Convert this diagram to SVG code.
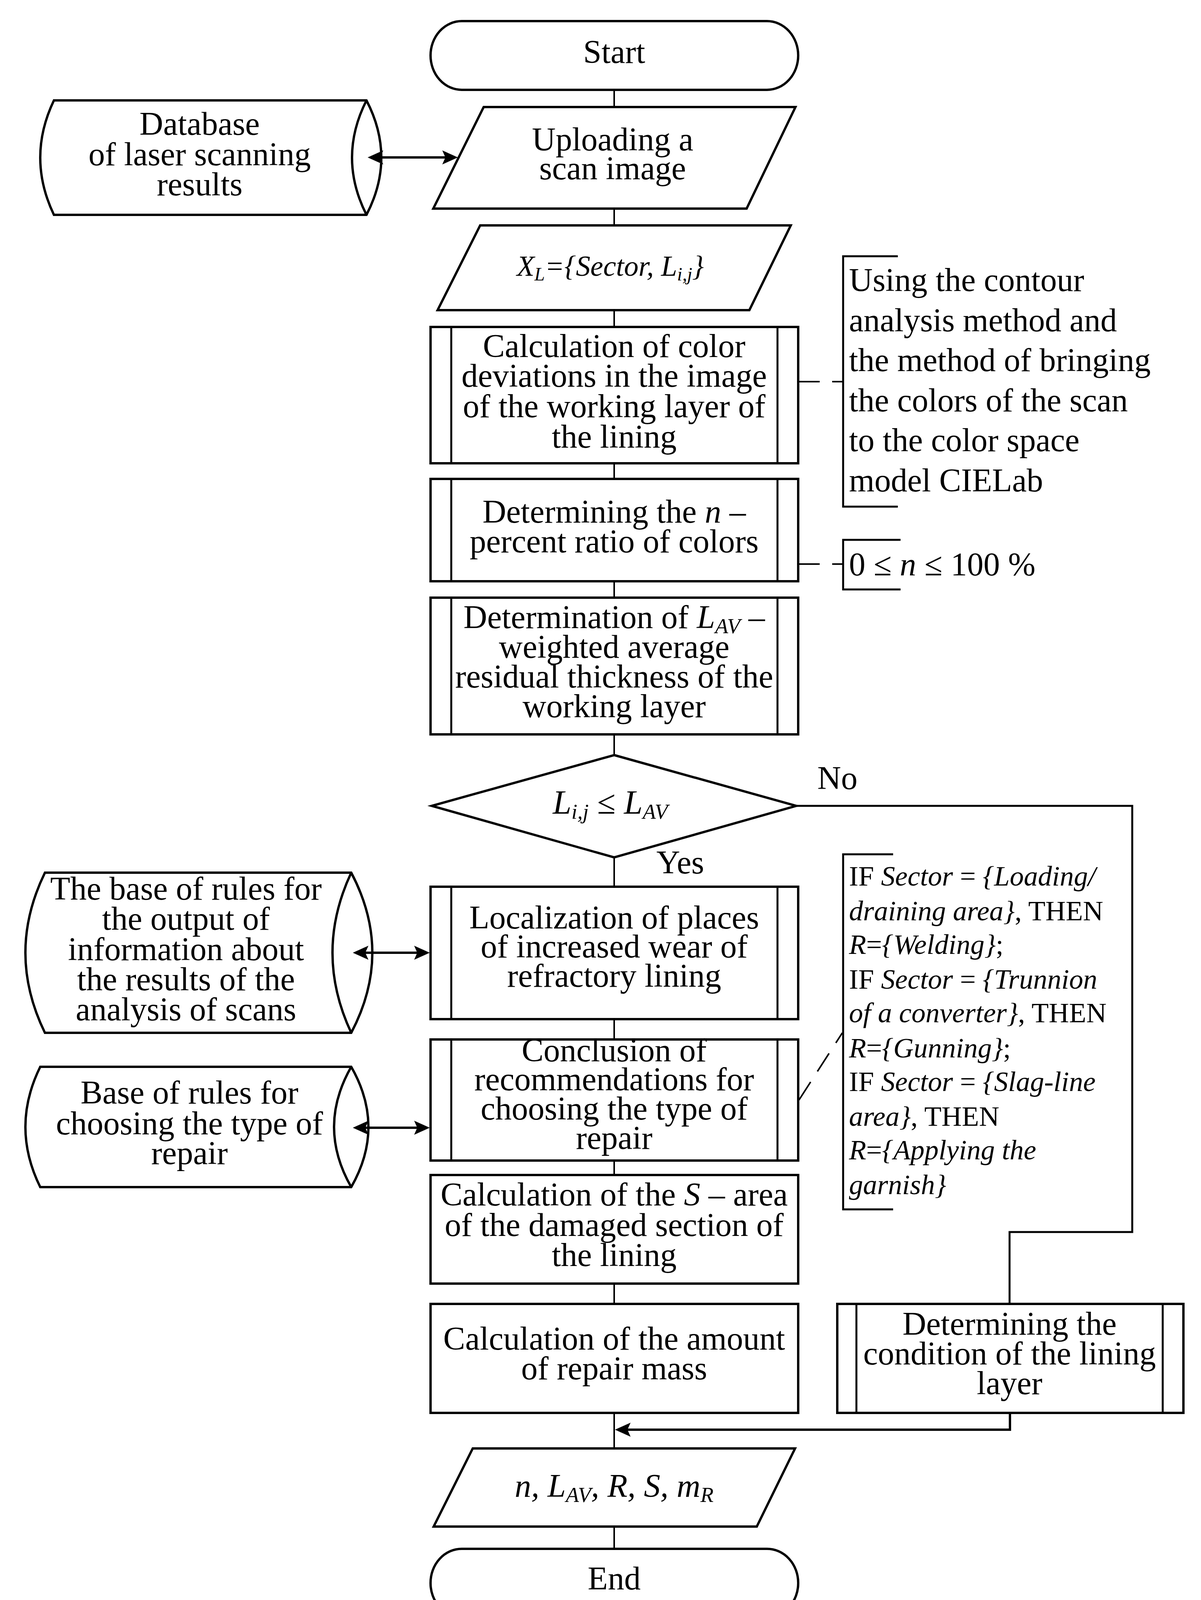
<svg xmlns="http://www.w3.org/2000/svg" width="3074" height="4181" viewBox="0 0 3074 4181">
<style>
.shape{fill:#fff;stroke:#000;stroke-width:6;stroke-linejoin:miter}
.inner{fill:none;stroke:#000;stroke-width:5}
.conn{fill:none;stroke:#000;stroke-width:4}
.thick{fill:none;stroke:#000;stroke-width:6}
.dash{stroke-dasharray:55 32}
.br{fill:none;stroke:#000;stroke-width:5}
.t{font-family:"Liberation Serif","Times New Roman",serif;font-size:84px;fill:#000}
.c{text-anchor:middle}
.i{font-style:italic}
.s{font-size:55px}
.sm{font-size:72px}
.md{font-size:84px}
</style>
<defs>
<marker id="ah" viewBox="0 0 40 36" refX="20" refY="18" markerWidth="40" markerHeight="36" markerUnits="userSpaceOnUse" orient="auto-start-reverse">
<path d="M0,0 L40,18 L0,36 L8,18 Z" fill="#000"/>
</marker>
</defs>
<rect width="3074" height="4181" fill="#fff"/>

<g id="start">
<rect class="shape" x="1102" y="54" width="941" height="176" rx="80" ry="88"/>
<text class="t c" x="1572" y="161">Start</text>
</g>

<g id="upload">
<path class="shape" d="M1238,274 L2036,274 L1911,534 L1109,534 Z"/>
<text class="t c"><tspan x="1568" y="385">Uploading a</tspan><tspan x="1568" y="459">scan image</tspan></text>
</g>

<g id="database">
<path class="shape" d="M138,257 L938,257 Q1014,403.5 938,550 L138,550 Q68,403.5 138,257 Z"/>
<path class="inner" style="stroke-width:6" d="M938,257 Q864,403.5 938,550"/>
<text class="t c"><tspan x="511" y="345">Database</tspan><tspan x="511" y="423">of laser scanning</tspan><tspan x="511" y="500">results</tspan></text>
</g>

<g id="xl">
<path class="shape" d="M1229,577 L2024,577 L1918,794 L1120,794 Z"/>
<text class="t c i" x="1562" y="706" style="font-size:74px">X<tspan dy="12" style="font-size:48px">L</tspan><tspan dy="-12">={Sector, L</tspan><tspan dy="12" style="font-size:48px">i,j</tspan><tspan dy="-12">}</tspan></text>
</g>

<g id="calc-color">
<rect class="shape" x="1102" y="837" width="941" height="349"/>
<path class="inner" d="M1155,837 V1186 M1990,837 V1186"/>
<text class="t c"><tspan x="1572" y="914">Calculation of color</tspan><tspan x="1572" y="990">deviations in the image</tspan><tspan x="1572" y="1068">of the working layer of</tspan><tspan x="1572" y="1146">the lining</tspan></text>
</g>

<g id="note-contour">
<path class="br" d="M2298,656 H2158 V1297 H2298"/>
<text class="t md"><tspan x="2173" y="745">Using the contour</tspan><tspan x="2173" y="848">analysis method and</tspan><tspan x="2173" y="950">the method of bringing</tspan><tspan x="2173" y="1053">the colors of the scan</tspan><tspan x="2173" y="1155">to the color space</tspan><tspan x="2173" y="1258">model CIELab</tspan></text>
</g>

<g id="det-n">
<rect class="shape" x="1102" y="1226" width="941" height="262"/>
<path class="inner" d="M1155,1226 V1488 M1990,1226 V1488"/>
<text class="t c"><tspan x="1572" y="1338">Determining the <tspan class="i">n</tspan> –</tspan><tspan x="1572" y="1414">percent ratio of colors</tspan></text>
</g>

<g id="note-n">
<path class="br" d="M2305,1382 H2158 V1509 H2305"/>
<text class="t md" x="2173" y="1473">0 ≤ <tspan class="i">n</tspan> ≤ 100 %</text>
</g>

<g id="det-lav">
<rect class="shape" x="1102" y="1530" width="941" height="350"/>
<path class="inner" d="M1155,1530 V1880 M1990,1530 V1880"/>
<text class="t c"><tspan x="1572" y="1608">Determination of <tspan class="i">L</tspan><tspan class="i s" dy="13">AV</tspan><tspan dy="-13"> –</tspan></tspan><tspan x="1572" y="1684">weighted average</tspan><tspan x="1572" y="1760">residual thickness of the</tspan><tspan x="1572" y="1836">working layer</tspan></text>
</g>

<g id="decision">
<path class="shape" d="M1572,1933 L2038,2063 L1572,2195 L1105,2063 Z"/>
<text class="t c i" x="1562" y="2083" style="font-size:86px">L<tspan class="s" dy="13">i,j</tspan><tspan dy="-13" style="font-style:normal"> ≤ </tspan>L<tspan class="s" dy="13">AV</tspan></text>
<text class="t" x="2092" y="2020">No</text>
<text class="t" x="1680" y="2236">Yes</text>
</g>

<g id="localization">
<rect class="shape" x="1102" y="2270" width="941" height="339"/>
<path class="inner" d="M1155,2270 V2609 M1990,2270 V2609"/>
<text class="t c"><tspan x="1572" y="2377">Localization of places</tspan><tspan x="1572" y="2451">of increased wear of</tspan><tspan x="1572" y="2526">refractory lining</tspan></text>
</g>

<g id="base-output">
<path class="shape" d="M115,2234 L899,2234 Q1007,2439 899,2644 L115,2644 Q15,2439 115,2234 Z"/>
<path class="inner" style="stroke-width:6" d="M899,2234 Q803,2439 899,2644"/>
<text class="t c"><tspan x="476" y="2303">The base of rules for</tspan><tspan x="476" y="2380">the output of</tspan><tspan x="476" y="2458">information about</tspan><tspan x="476" y="2535">the results of the</tspan><tspan x="476" y="2612">analysis of scans</tspan></text>
</g>

<g id="conclusion">
<rect class="shape" x="1102" y="2661" width="941" height="310"/>
<path class="inner" d="M1155,2661 V2971 M1990,2661 V2971"/>
<text class="t c"><tspan x="1572" y="2717">Conclusion of</tspan><tspan x="1572" y="2791">recommendations for</tspan><tspan x="1572" y="2866">choosing the type of</tspan><tspan x="1572" y="2941">repair</tspan></text>
</g>

<g id="base-repair">
<path class="shape" d="M103,2731 L899,2731 Q987,2885 899,3039 L103,3039 Q27,2885 103,2731 Z"/>
<path class="inner" style="stroke-width:6" d="M899,2731 Q811,2885 899,3039"/>
<text class="t c"><tspan x="485" y="2825">Base of rules for</tspan><tspan x="485" y="2904">choosing the type of</tspan><tspan x="485" y="2980">repair</tspan></text>
</g>

<g id="note-rules">
<path class="br" d="M2286,2187 H2158 V3096 H2286"/>
<text class="t sm"><tspan x="2173" y="2267">IF <tspan class="i">Sector</tspan> = <tspan class="i">{Loading/</tspan></tspan><tspan x="2173" y="2356"><tspan class="i">draining area}</tspan>, THEN</tspan><tspan x="2173" y="2442"><tspan class="i">R</tspan>=<tspan class="i">{Welding}</tspan>;</tspan><tspan x="2173" y="2531">IF <tspan class="i">Sector</tspan> = <tspan class="i">{Trunnion</tspan></tspan><tspan x="2173" y="2617"><tspan class="i">of a converter}</tspan>, THEN</tspan><tspan x="2173" y="2707"><tspan class="i">R</tspan>=<tspan class="i">{Gunning}</tspan>;</tspan><tspan x="2173" y="2793">IF <tspan class="i">Sector</tspan> = <tspan class="i">{Slag-line</tspan></tspan><tspan x="2173" y="2882"><tspan class="i">area}</tspan>, THEN</tspan><tspan x="2173" y="2968"><tspan class="i">R</tspan>=<tspan class="i">{Applying the</tspan></tspan><tspan x="2173" y="3057" class="i">garnish}</tspan></text>
</g>

<g id="calc-s">
<rect class="shape" x="1102" y="3008" width="941" height="278"/>
<text class="t c"><tspan x="1572" y="3086">Calculation of the <tspan class="i">S</tspan> – area</tspan><tspan x="1572" y="3164">of the damaged section of</tspan><tspan x="1572" y="3241">the lining</tspan></text>
</g>

<g id="calc-mass">
<rect class="shape" x="1102" y="3338" width="941" height="279"/>
<text class="t c"><tspan x="1572" y="3455">Calculation of the amount</tspan><tspan x="1572" y="3531">of repair mass</tspan></text>
</g>

<g id="condition">
<rect class="shape" x="2143" y="3338" width="886" height="279"/>
<path class="inner" d="M2192,3338 V3617 M2976,3338 V3617"/>
<text class="t c"><tspan x="2584" y="3417">Determining the</tspan><tspan x="2584" y="3493">condition of the lining</tspan><tspan x="2584" y="3569">layer</tspan></text>
</g>

<g id="output">
<path class="shape" d="M1210,3708 L2035,3708 L1937,3908 L1110,3908 Z"/>
<text class="t c i" x="1572" y="3832">n, L<tspan class="s" dy="13">AV</tspan><tspan dy="-13">, R, S, m</tspan><tspan class="s" dy="13">R</tspan></text>
</g>

<g id="end">
<rect class="shape" x="1102" y="3965" width="941" height="175" rx="80" ry="87"/>
<text class="t c" x="1572" y="4069">End</text>
</g>

<g id="connectors">
<path class="conn" d="M1572,230 V274 M1572,534 V577 M1572,794 V837 M1572,1186 V1226 M1572,1488 V1530 M1572,1880 V1933 M1572,2195 V2270 M1572,2609 V2661 M1572,2971 V3008 M1572,3286 V3338 M1572,3617 V3708 M1572,3908 V3965"/>
<line class="thick" x1="961" y1="403" x2="1152" y2="403" marker-start="url(#ah)" marker-end="url(#ah)"/>
<line class="thick" x1="923" y1="2439" x2="1080" y2="2439" marker-start="url(#ah)" marker-end="url(#ah)"/>
<line class="thick" x1="923" y1="2887" x2="1080" y2="2887" marker-start="url(#ah)" marker-end="url(#ah)"/>
<path class="conn" style="stroke-width:5" d="M2038,2063 H2898 V3154 H2584 V3338"/>
<path class="thick" d="M2585,3617 V3660 H1594" marker-end="url(#ah)"/>
<line class="conn dash" x1="2043" y1="977" x2="2158" y2="977"/>
<line class="conn dash" x1="2043" y1="1444" x2="2158" y2="1444"/>
<line class="conn dash" x1="2045" y1="2816" x2="2156" y2="2644"/>
</g>
</svg>
